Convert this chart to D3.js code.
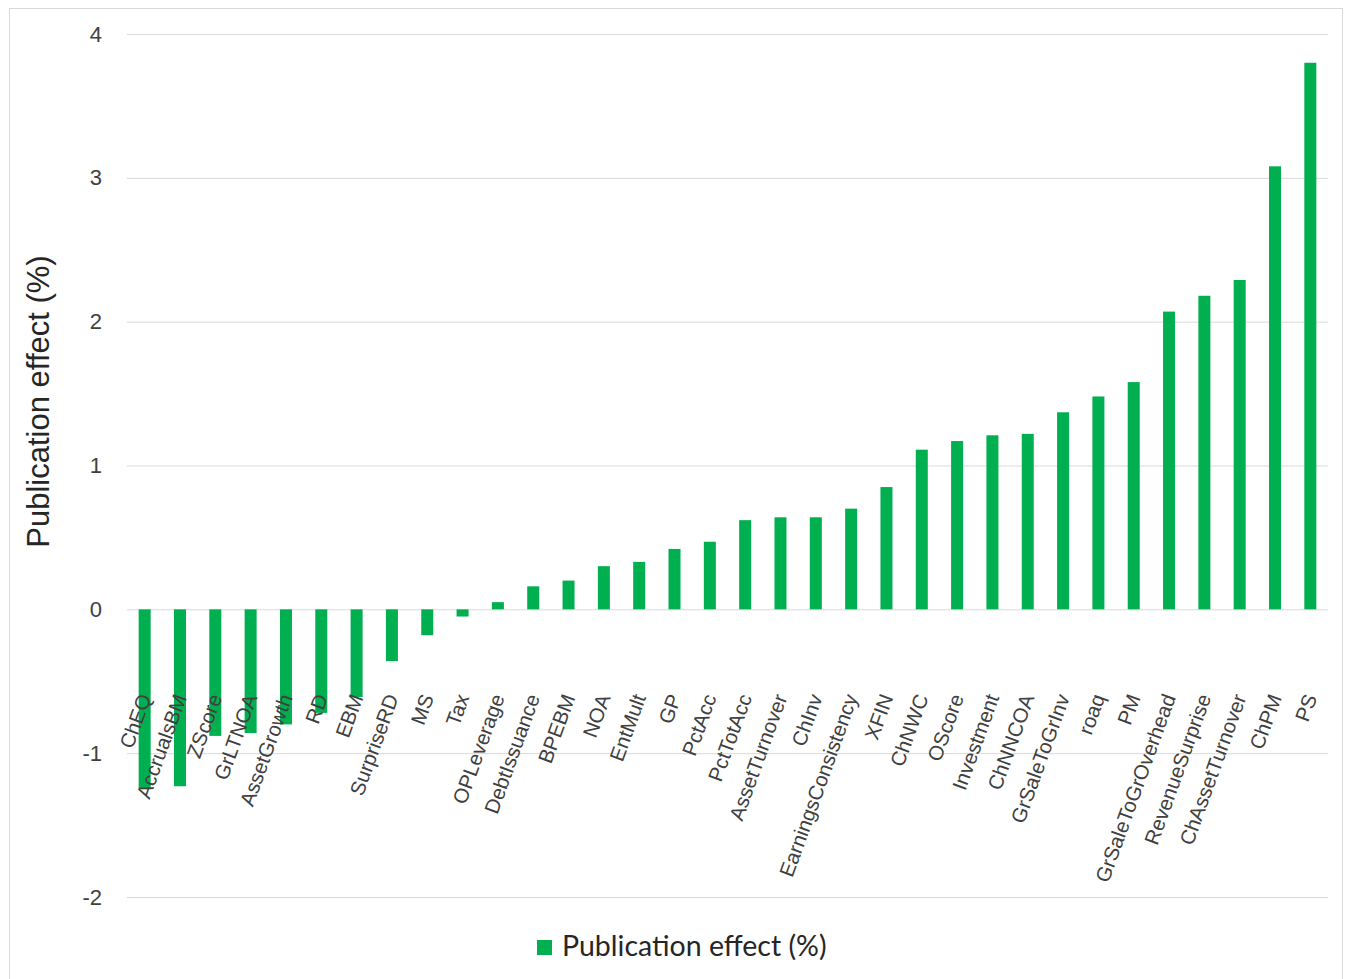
<!DOCTYPE html>
<html>
<head>
<meta charset="utf-8">
<script src="https://cdn.jsdelivr.net/npm/d3@7"></script>
<style>
  html, body { margin: 0; padding: 0; background: #ffffff; }
  svg { display: block; }
</style>
</head>
<body>
<svg id="chart" width="1351" height="979"></svg>
<script>
// Anomaly names, ordered from most negative to most positive effect
const categories = [
  "ChEQ", "AccrualsBM", "ZScore", "GrLTNOA", "AssetGrowth", "RD", "EBM",
  "SurpriseRD", "MS", "Tax", "OPLeverage", "DebtIssuance", "BPEBM", "NOA",
  "EntMult", "GP", "PctAcc", "PctTotAcc", "AssetTurnover", "ChInv",
  "EarningsConsistency", "XFIN", "ChNWC", "OScore", "Investment", "ChNNCOA",
  "GrSaleToGrInv", "roaq", "PM", "GrSaleToGrOverhead", "RevenueSurprise",
  "ChAssetTurnover", "ChPM", "PS"
];

// Publication effect in percent, one per anomaly
const effects = [
  -1.25, -1.23, -0.88, -0.86, -0.80, -0.72, -0.61,
  -0.36, -0.18, -0.05, 0.05, 0.16, 0.20, 0.30,
  0.33, 0.42, 0.47, 0.62, 0.64, 0.64,
  0.70, 0.85, 1.11, 1.17, 1.21, 1.22,
  1.37, 1.48, 1.58, 2.07, 2.18,
  2.29, 3.08, 3.80
];

const yTicks = [-2, -1, 0, 1, 2, 3, 4];
const seriesName = "Publication effect (%)";
const yTitle = "Publication effect (%)";

const barColor = "#00b050";
const gridColor = "#d9d9d9";
const textColor = "#404040";

const svg = d3.select("#chart");

// Chart frame
svg.append("rect")
  .attr("x", 9.5).attr("y", 8.5)
  .attr("width", 1333).attr("height", 980)
  .attr("fill", "#ffffff")
  .attr("stroke", "#d9d9d9")
  .attr("stroke-width", 1);

const plot = { left: 127, right: 1328, top: 34, bottom: 897 };

const x = d3.scaleBand()
  .domain(categories)
  .range([plot.left, plot.right])
  .paddingInner(0.66)
  .paddingOuter(0.33);

const y = d3.scaleLinear()
  .domain([d3.min(yTicks), d3.max(yTicks)])
  .range([plot.bottom, plot.top]);

// Horizontal gridlines with value labels (plain hyphen for negatives)
const yAxis = d3.axisLeft(y)
  .tickValues(yTicks)
  .tickSize(-(plot.right - plot.left))
  .tickPadding(25)
  .tickFormat(d => String(d));

const yg = svg.append("g")
  .attr("transform", `translate(${plot.left},0)`)
  .call(yAxis);
yg.select(".domain").remove();
yg.selectAll(".tick line")
  .attr("stroke", gridColor)
  .attr("stroke-width", 1);
yg.selectAll(".tick text")
  .attr("fill", textColor)
  .style("font-family", "'Liberation Sans', Arial, sans-serif")
  .style("font-size", "22px");

// Bars
svg.append("g")
  .selectAll("rect")
  .data(effects)
  .join("rect")
  .attr("x", (d, i) => x(categories[i]))
  .attr("width", x.bandwidth())
  .attr("y", d => y(Math.max(0, d)))
  .attr("height", d => Math.abs(y(d) - y(0)))
  .attr("fill", barColor);

// Category labels, slanted, hanging below the zero line
const labelY = y(0) + 88;
svg.append("g")
  .selectAll("text")
  .data(categories)
  .join("text")
  .attr("transform", d => `translate(${x(d) + x.bandwidth() / 2 + 7},${labelY}) rotate(-70)`)
  .attr("text-anchor", "end")
  .attr("fill", textColor)
  .style("font-family", "'Liberation Sans', Arial, sans-serif")
  .style("font-size", "20.5px")
  .text(d => d);

// Y axis title
svg.append("text")
  .attr("transform", `translate(49,${(255 + 548) / 2}) rotate(-90)`)
  .attr("text-anchor", "middle")
  .attr("fill", "#262626")
  .style("font-family", "'Liberation Sans', Arial, sans-serif")
  .style("font-size", "31px")
  .text(yTitle);

// Legend
const legend = svg.append("g").attr("transform", "translate(537,940)");
legend.append("rect")
  .attr("width", 15).attr("height", 15)
  .attr("fill", barColor);
legend.append("text")
  .attr("x", 25).attr("y", 16)
  .attr("fill", "#262626")
  .style("font-family", "Lato, 'Open Sans', sans-serif")
  .style("font-size", "28.5px")
  .text(seriesName);
</script>
</body>
</html>
